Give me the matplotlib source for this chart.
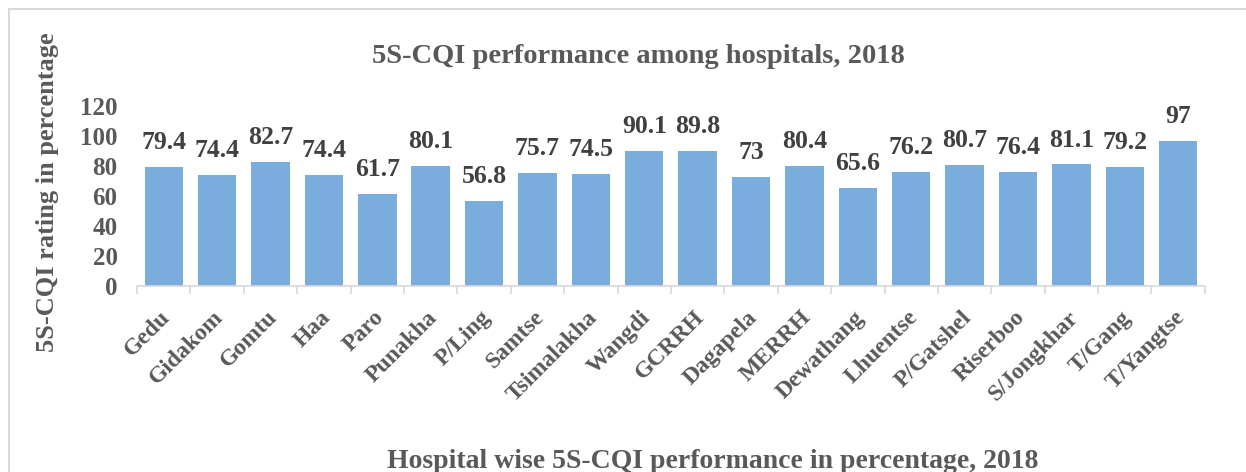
import matplotlib.pyplot as plt
from matplotlib.patches import Rectangle
from matplotlib.transforms import ScaledTranslation
import numpy as np

hospitals = ['Gedu', 'Gidakom', 'Gomtu', 'Haa', 'Paro', 'Punakha', 'P/Ling', 'Samtse',
             'Tsimalakha', 'Wangdi', 'GCRRH', 'Dagapela', 'MERRH', 'Dewathang', 'Lhuentse',
             'P/Gatshel', 'Riserboo', 'S/Jongkhar', 'T/Gang', 'T/Yangtse']
scores = [79.4, 74.4, 82.7, 74.4, 61.7, 80.1, 56.8, 75.7, 74.5, 90.1, 89.8, 73, 80.4,
          65.6, 76.2, 80.7, 76.4, 81.1, 79.2, 97]
y_ticks = [0, 20, 40, 60, 80, 100, 120]

plt.rcParams['font.family'] = ['Liberation Serif', 'DejaVu Serif']
plt.rcParams['font.weight'] = 'bold'

grey = '#595959'
fig = plt.figure(figsize=(12.46, 4.72), dpi=100)
ax = fig.add_axes([0.110, 0.394, 0.857, 0.381])

x = np.arange(len(hospitals))
ax.bar(x, scores, width=0.72, color='#7aaddd', zorder=2)
for xi, v in zip(x, scores):
    ax.text(xi, v + 12, f'{v:g}', ha='center', va='baseline', fontsize=18.5,
            fontweight='bold', color='#404040')

ax.set_xlim(-0.5, len(hospitals) - 0.5)
ax.set_ylim(0, 120)
ax.set_yticks(y_ticks)
ax.set_yticklabels([str(t) for t in y_ticks], fontsize=18, fontweight='bold', color=grey)
ax.tick_params(axis='y', length=0, pad=14)

ax.set_xticks(x)
ax.set_xticklabels(hospitals, rotation=45, ha='right', rotation_mode='anchor',
                   fontsize=17, fontweight='bold', color=grey)
ax.tick_params(axis='x', which='major', length=0, pad=15)
shift = ScaledTranslation(-4 / 100, 0, fig.dpi_scale_trans)
for lbl in ax.get_xticklabels():
    lbl.set_transform(lbl.get_transform() + shift)
ax.set_xticks(np.arange(-0.5, len(hospitals)), minor=True)
ax.tick_params(axis='x', which='minor', length=6, color='#d9d9d9', width=1.2)

for side in ['top', 'right', 'left']:
    ax.spines[side].set_visible(False)
ax.spines['bottom'].set_color('#d9d9d9')
ax.spines['bottom'].set_linewidth(1.2)

fig.text(0.512, 0.881, '5S-CQI performance among hospitals, 2018', ha='center',
         va='center', fontsize=20.5, fontweight='bold', color=grey)
fig.text(0.038, 0.593, '5S-CQI rating in percentage', rotation=90, ha='center',
         va='center', fontsize=19, fontweight='bold', color=grey)
fig.text(0.572, 0.023, 'Hospital wise 5S-CQI performance in percentage, 2018',
         ha='center', va='center', fontsize=20, fontweight='bold', color=grey)

# outer frame of the chart area
fig.patches.append(Rectangle((0.007, -0.05), 1.1, 1.03, transform=fig.transFigure,
                             fill=False, edgecolor='#d9d9d9', linewidth=1.5))

fig.savefig('out.png', dpi=100)
